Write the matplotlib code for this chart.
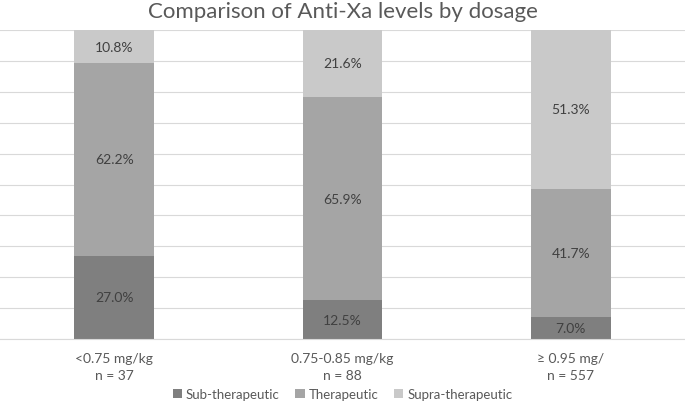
import matplotlib
matplotlib.use("Agg")
import matplotlib.pyplot as plt
import numpy as np

categories = ["<0.75 mg/kg\nn = 37", "0.75-0.85 mg/kg\nn = 88", "\u2265 0.95 mg/\nn = 557"]
sub_ther = [27.0, 12.5, 7.0]
ther = [62.2, 65.9, 41.7]
supra = [10.8, 21.6, 51.3]
series_names = ["Sub-therapeutic", "Therapeutic", "Supra-therapeutic"]
colors = ["#7f7f7f", "#a5a5a5", "#c9c9c9"]
text_col = "#595959"

plt.rcParams["font.family"] = ["Lato", "DejaVu Sans"]

fig = plt.figure(figsize=(6.85, 4.02), dpi=100)
ax = fig.add_axes([0.0, 0.154, 1.0, 0.769])

x = np.arange(len(categories))
w = 0.35
bottom = np.zeros(len(categories))
for vals, name, c in zip([sub_ther, ther, supra], series_names, colors):
    ax.bar(x, vals, w, bottom=bottom, color=c, label=name, zorder=2)
    for xi, b, v in zip(x, bottom, vals):
        ax.text(xi, b + v / 2, f"{v:.1f}%", ha="center", va="center",
                fontsize=10, color="#404040", zorder=3)
    bottom += np.array(vals)

ax.set_xlim(-0.5, 2.5)
ax.set_ylim(0, 100)
ax.set_yticks(np.arange(0, 101, 10))
ax.yaxis.grid(True, color="#d9d9d9", linewidth=0.8, zorder=0)
ax.tick_params(axis="y", left=False, labelleft=False)
ax.set_xticks(x)
ax.set_xticklabels(categories, fontsize=10, color=text_col, linespacing=1.5)
ax.tick_params(axis="x", length=0, pad=9)
for s in ["top", "left", "right"]:
    ax.spines[s].set_visible(False)
ax.spines["bottom"].set_color("#d9d9d9")

fig.suptitle("Comparison of Anti-Xa levels by dosage", fontsize=16,
             color=text_col, y=0.995)
fig.legend(loc="lower center", bbox_to_anchor=(0.5, -0.028), ncol=3,
           frameon=False, fontsize=9.5, labelcolor=text_col,
           handlelength=0.7, handleheight=0.7, handletextpad=0.3, columnspacing=1.2)

fig.savefig("out.png", dpi=100)
